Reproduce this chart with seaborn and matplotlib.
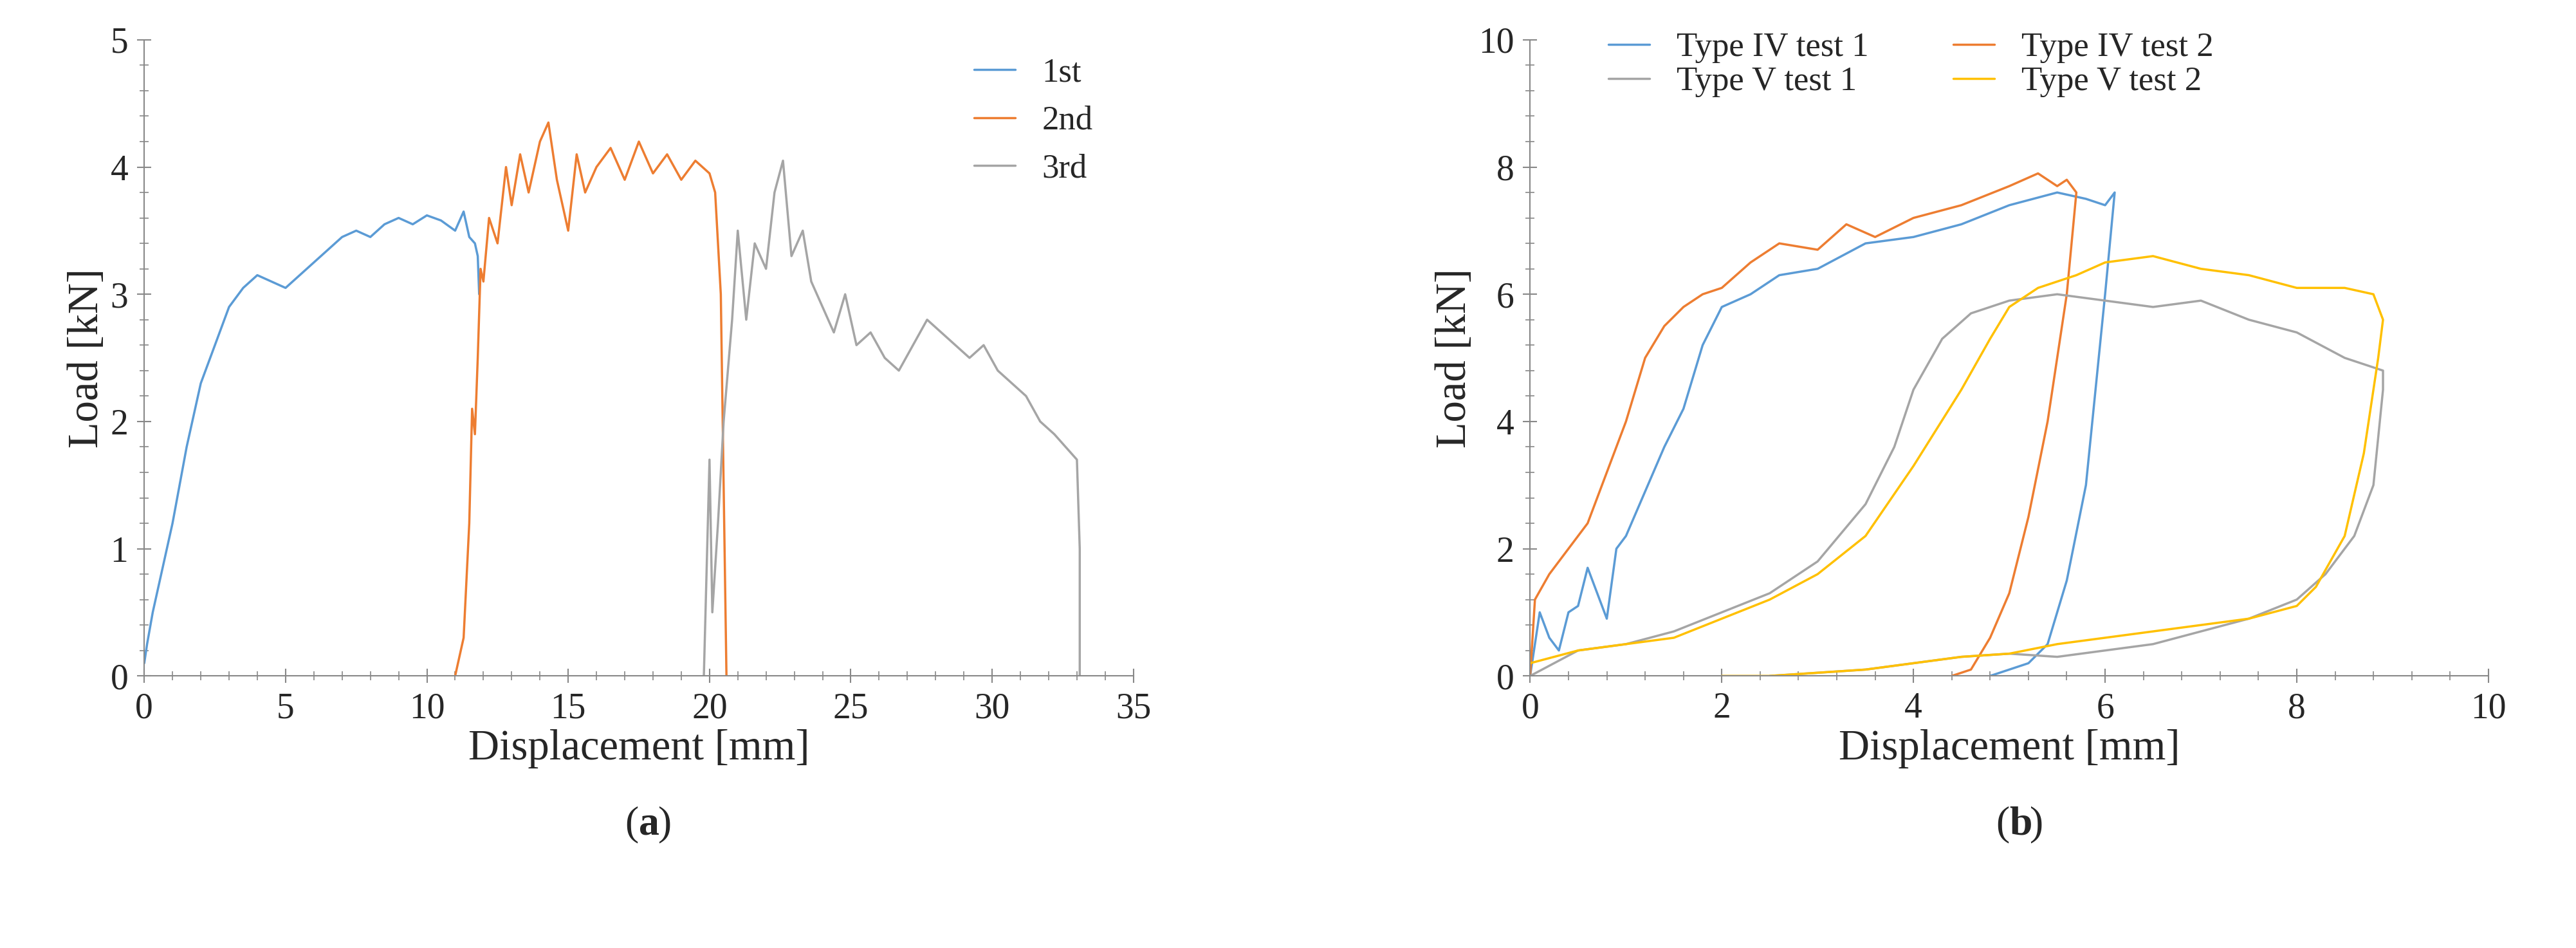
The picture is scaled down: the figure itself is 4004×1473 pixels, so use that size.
import matplotlib
matplotlib.use("Agg")
import matplotlib.pyplot as plt
import seaborn as sns
import pandas as pd
from matplotlib.ticker import MultipleLocator

sns.set_style("ticks")
plt.rcParams['font.family'] = ['Liberation Serif', 'DejaVu Serif']

# Panel (a)
a1_x = [0,0.1,0.3,0.6,1,1.5,2,2.5,3,3.5,4,4.5,5,5.5,6,6.5,7,7.5,8,8.5,9,9.5,10,10.5,11,11.3,11.5,11.7,11.8,11.85]
a1_y = [0.1,0.25,0.5,0.8,1.2,1.8,2.3,2.6,2.9,3.05,3.15,3.1,3.05,3.15,3.25,3.35,3.45,3.5,3.45,3.55,3.6,3.55,3.62,3.58,3.5,3.65,3.45,3.4,3.3,3.0]
a2_x = [11.0,11.3,11.5,11.6,11.7,11.8,11.9,12,12.2,12.5,12.8,13,13.3,13.6,14,14.3,14.6,15,15.3,15.6,16,16.5,17,17.5,18,18.5,19,19.5,20,20.2,20.4,20.5,20.6]
a2_y = [0,0.3,1.2,2.1,1.9,2.5,3.2,3.1,3.6,3.4,4.0,3.7,4.1,3.8,4.2,4.35,3.9,3.5,4.1,3.8,4.0,4.15,3.9,4.2,3.95,4.1,3.9,4.05,3.95,3.8,3.0,1.5,0]
a3_x = [19.8,20.0,20.1,20.3,20.5,20.8,21,21.3,21.6,22,22.3,22.6,22.9,23.3,23.6,24,24.4,24.8,25.2,25.7,26.2,26.7,27.2,27.7,28.2,28.7,29.2,29.7,30.2,30.7,31.2,31.7,32.2,32.6,33,33.1,33.1]
a3_y = [0,1.7,0.5,1.2,2.0,2.8,3.5,2.8,3.4,3.2,3.8,4.05,3.3,3.5,3.1,2.9,2.7,3.0,2.6,2.7,2.5,2.4,2.6,2.8,2.7,2.6,2.5,2.6,2.4,2.3,2.2,2.0,1.9,1.8,1.7,1.0,0]
a_labels = ['1st', '2nd', '3rd']

# Panel (b)
b1_x = [0,0.1,0.2,0.3,0.4,0.5,0.6,0.7,0.8,0.9,1.0,1.2,1.4,1.6,1.8,2.0,2.3,2.6,3,3.5,4,4.5,5,5.5,5.8,6.0,6.1,6.1,6.0,5.9,5.8,5.6,5.4,5.2,4.8]
b1_y = [0,1.0,0.6,0.4,1.0,1.1,1.7,1.3,0.9,2.0,2.2,2.9,3.6,4.2,5.2,5.8,6.0,6.3,6.4,6.8,6.9,7.1,7.4,7.6,7.5,7.4,7.6,7.6,6.0,4.5,3.0,1.5,0.5,0.2,0]
b2_x = [0,0.05,0.2,0.4,0.6,0.8,1,1.2,1.4,1.6,1.8,2,2.3,2.6,3,3.3,3.6,4,4.5,5,5.3,5.5,5.6,5.7,5.6,5.4,5.2,5.0,4.8,4.6,4.4]
b2_y = [0,1.2,1.6,2.0,2.4,3.2,4.0,5.0,5.5,5.8,6.0,6.1,6.5,6.8,6.7,7.1,6.9,7.2,7.4,7.7,7.9,7.7,7.8,7.6,6.0,4.0,2.5,1.3,0.6,0.1,0]
b3_x = [0,0.5,1,1.5,2,2.5,3,3.5,3.8,4.0,4.3,4.6,5,5.5,6,6.5,7,7.5,8,8.5,8.9,8.9,8.8,8.6,8.3,8,7.5,7,6.5,6,5.5,5,4.5,4,3.5,3,2.5]
b3_y = [0,0.4,0.5,0.7,1.0,1.3,1.8,2.7,3.6,4.5,5.3,5.7,5.9,6.0,5.9,5.8,5.9,5.6,5.4,5.0,4.8,4.5,3.0,2.2,1.6,1.2,0.9,0.7,0.5,0.4,0.3,0.35,0.3,0.2,0.1,0.05,0]
b4_x = [0,0.5,1,1.5,2,2.5,3,3.5,4,4.5,4.8,5,5.3,5.7,6,6.5,7,7.5,8,8.5,8.8,8.9,8.85,8.7,8.5,8.2,8,7.5,7,6.5,6,5.5,5,4.5,4,3.5,3,2.5,2]
b4_y = [0.2,0.4,0.5,0.6,0.9,1.2,1.6,2.2,3.3,4.5,5.3,5.8,6.1,6.3,6.5,6.6,6.4,6.3,6.1,6.1,6.0,5.6,5.0,3.5,2.2,1.4,1.1,0.9,0.8,0.7,0.6,0.5,0.35,0.3,0.2,0.1,0.05,0,0]
b_labels = ['Type IV test 1', 'Type IV test 2', 'Type V test 1', 'Type V test 2']

colors = ['#5b9bd5', '#ed7d31', '#a5a5a5', '#ffc000']

fig = plt.figure(figsize=(40.04, 14.73), dpi=100)
axa = fig.add_axes([0.056, 0.287, 0.384, 0.671])
axb = fig.add_axes([0.594, 0.287, 0.372, 0.671])

def df(xs, ys, labels):
    rows = []
    for x, y, l in zip(xs, ys, labels):
        for i, (xx, yy) in enumerate(zip(x, y)):
            rows.append((i, xx, yy, l))
    return pd.DataFrame(rows, columns=['i', 'x', 'y', 's'])

da = df([a1_x, a2_x, a3_x], [a1_y, a2_y, a3_y], a_labels)
db = df([b1_x, b2_x, b3_x, b4_x], [b1_y, b2_y, b3_y, b4_y], b_labels)
sns.lineplot(data=da, x='x', y='y', hue='s', palette=colors[:3], sort=False, estimator=None, units='s', ax=axa, linewidth=2.5)
sns.lineplot(data=db, x='x', y='y', hue='s', palette=colors, sort=False, estimator=None, units='s', ax=axb, linewidth=2.5)

for ax, xmax, ymax, xmaj, xmin, ymaj, ymin in [(axa, 35, 5, 5, 1, 1, 0.2), (axb, 10, 10, 2, 0.4, 2, 0.4)]:
    ax.set_xlim(0, xmax); ax.set_ylim(0, ymax)
    ax.xaxis.set_major_locator(MultipleLocator(xmaj)); ax.xaxis.set_minor_locator(MultipleLocator(xmin))
    ax.yaxis.set_major_locator(MultipleLocator(ymaj)); ax.yaxis.set_minor_locator(MultipleLocator(ymin))
    ax.tick_params(which='major', direction='inout', length=16, width=1.5, color='#888888', labelsize=40, pad=10)
    ax.tick_params(which='minor', direction='inout', length=10, width=1.2, color='#888888')
    for s in ['top', 'right']:
        ax.spines[s].set_visible(False)
    for s in ['left', 'bottom']:
        ax.spines[s].set_color('#888888'); ax.spines[s].set_linewidth(1.5)
    ax.set_xlabel('Displacement [mm]', fontsize=48)
    ax.set_ylabel('Load [kN]', fontsize=48)

axa.legend(title=None, fontsize=38, frameon=False, loc='upper right', bbox_to_anchor=(0.99, 1.02), handlelength=1.2)
h, l = axb.get_legend_handles_labels()
order = [0, 2, 1, 3]
axb.legend([h[i] for i in order], [l[i] for i in order], title=None, fontsize=38, frameon=False, ncol=2,
           loc='upper left', bbox_to_anchor=(0.05, 1.06), handlelength=1.2, columnspacing=2.5, labelspacing=0.1)

fig.text(0.248, 0.12, '(', fontsize=46, ha='right')
fig.text(0.248, 0.12, 'a', fontsize=46, ha='left', fontweight='bold')
fig.text(0.2555, 0.12, ')', fontsize=46, ha='left')
fig.text(0.780, 0.12, '(', fontsize=46, ha='right')
fig.text(0.780, 0.12, 'b', fontsize=46, ha='left', fontweight='bold')
fig.text(0.788, 0.12, ')', fontsize=46, ha='left')

fig.savefig('out.png', dpi=100)
